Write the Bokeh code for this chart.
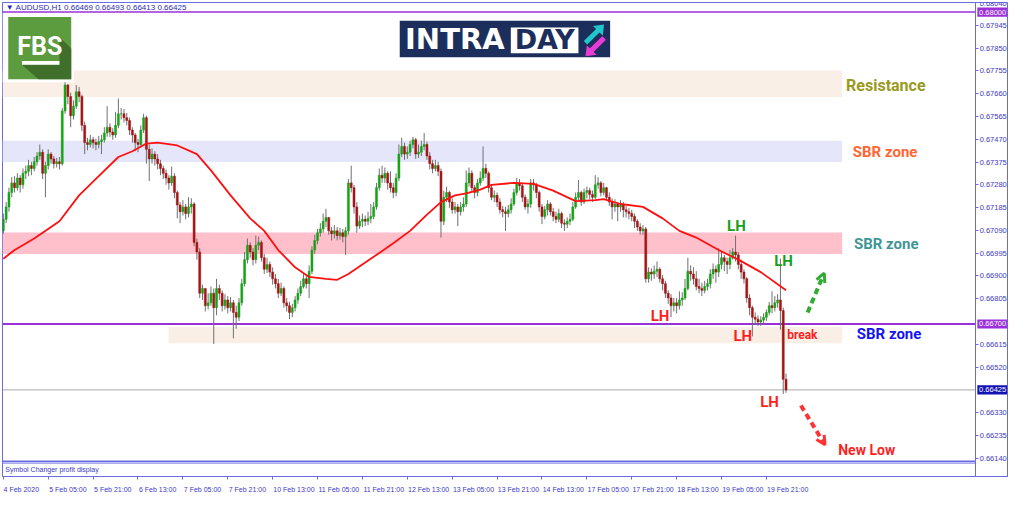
from bokeh.plotting import figure
from bokeh.models import (Range1d, FixedTicker, PrintfTickFormatter, Label,
                          Arrow, OpenHead, LinearAxis)
from bokeh.embed import file_html
from bokeh.resources import INLINE

# ---------------- data (prices in 1e-5 units, AUDUSD H1) ----------------
open0 = 67088
close_pts = [
    67136,67188,67248,67288,67268,67308,67280,67328,67336,67360,
    67348,67376,67400,67416,67328,67360,67408,67388,67368,67376,
    67368,67588,67696,67648,67568,67608,67668,67648,67528,67456,
    67448,67468,67456,67448,67460,67468,67496,67520,67500,67488,
    67528,67576,67576,67560,67548,67508,67488,67456,67448,67508,
    67560,67428,67388,67408,67388,67368,67348,67328,67308,67288,
    67316,67248,67196,67168,67188,67160,67188,67200,67040,67000,
    66828,66848,66776,66788,66828,66768,66848,66828,66776,66800,
    66768,66788,66748,66728,66788,66868,66968,67028,67000,66968,
    67028,67040,66976,66928,66948,66916,66888,66868,66828,66848,
    66788,66776,66748,66768,66800,66828,66856,66888,66868,66920,
    67008,67048,67080,67096,67128,67144,67088,67076,67088,67068,
    67080,67064,67088,67288,67268,67188,67108,67128,67136,67128,
    67140,67148,67188,67268,67320,67308,67328,67288,67268,67248,
    67308,67408,67440,67408,67416,67448,67468,67408,67416,67440,
    67448,67400,67368,67348,67360,67336,67128,67228,67248,67208,
    67176,67188,67168,67188,67200,67288,67328,67268,67248,67288,
    67308,67348,67328,67268,67228,67236,67208,67176,67168,67160,
    67176,67200,67248,67288,67276,67228,67188,67200,67288,67280,
    67248,67188,67148,67176,67200,67168,67148,67136,67160,67120,
    67116,67128,67136,67188,67228,67248,67208,67248,67256,67240,
    67228,67280,67288,67248,67268,67228,67208,67188,67200,67188,
    67196,67176,67168,67160,67148,67128,67104,67088,67096,66888,
    66916,66908,66920,66928,66888,66868,66828,66808,66776,66788,
    66776,66800,66808,66848,66920,66908,66888,66856,66848,66840,
    66856,66868,66908,66928,66916,66948,66976,66960,66948,66976,
    67000,66988,66948,66916,66888,66808,66768,66728,66720,66708,
    66716,66728,66748,66776,66768,66788,66800,66756,66469,66425,
]
high_pts = [
    67160,67208,67268,67312,67316,67328,67320,67348,67360,67384,
    67376,67396,67416,67448,67428,67376,67428,67416,67400,67392,
    67396,67600,67712,67700,67664,67632,67696,67688,67656,67544,
    67476,67488,67480,67472,67484,67488,67520,67608,67536,67516,
    67584,67640,67600,67596,67580,67560,67520,67496,67472,67528,
    67576,67568,67448,67432,67420,67408,67384,67360,67344,67320,
    67356,67328,67256,67208,67216,67200,67228,67224,67208,67056,
    67016,66864,66848,66828,66856,66848,66888,66864,66840,66824,
    66816,66812,66800,66776,66808,66888,67000,67056,67040,67016,
    67068,67064,67048,66992,66976,66960,66936,66908,66888,66872,
    66856,66808,66792,66784,66816,66848,66880,66908,66904,66944,
    67024,67072,67096,67120,67160,67180,67144,67104,67112,67104,
    67100,67096,67104,67304,67360,67280,67208,67152,67160,67152,
    67168,67200,67208,67288,67348,67360,67352,67336,67336,67288,
    67328,67448,67476,67456,67440,67464,67480,67476,67448,67464,
    67496,67460,67416,67384,67384,67376,67348,67256,67272,67256,
    67224,67208,67200,67208,67228,67340,67352,67340,67280,67304,
    67336,67440,67368,67336,67280,67256,67248,67224,67192,67188,
    67196,67224,67264,67308,67304,67288,67240,67220,67304,67304,
    67288,67256,67200,67192,67216,67208,67184,67168,67180,67168,
    67136,67144,67160,67208,67248,67300,67256,67264,67272,67268,
    67256,67320,67312,67296,67288,67272,67248,67224,67220,67208,
    67216,67208,67192,67184,67176,67160,67136,67120,67112,67104,
    66936,66932,66944,66960,66936,66904,66880,66840,66824,66808,
    66808,66836,66832,66888,66976,66944,66936,66920,66888,66872,
    66880,66888,66928,66952,66944,67016,67000,66988,66976,67008,
    67016,67068,67000,66968,66928,66896,66824,66776,66748,66736,
    66732,66744,66760,66792,66836,66816,66824,66972,66768,66493,
]
low_pts = [
    67076,67120,67168,67228,67248,67256,67248,67264,67304,67316,
    67320,67336,67360,67384,67304,67228,67344,67368,67348,67352,
    67344,67360,67576,67616,67520,67552,67596,67624,67504,67408,
    67424,67436,67432,67424,67432,67408,67456,67480,67480,67468,
    67476,67516,67552,67540,67528,67488,67456,67420,67416,67436,
    67496,67368,67296,67368,67360,67344,67320,67304,67280,67260,
    67276,67224,67140,67120,67152,67136,67144,67160,67024,66968,
    66808,66800,66752,66760,66776,66616,66736,66800,66752,66760,
    66744,66752,66640,66680,66712,66776,66856,66952,66976,66944,
    66952,67008,66960,66908,66912,66896,66864,66848,66808,66816,
    66768,66752,66720,66728,66752,66784,66816,66848,66848,66808,
    66908,66992,67032,67064,67080,67104,67072,67048,67056,67048,
    67052,67040,66988,67072,67248,67160,67080,67096,67104,67108,
    67112,67120,67136,67176,67256,67288,67288,67260,67248,67224,
    67232,67296,67396,67384,67388,67400,67432,67388,67392,67400,
    67424,67384,67344,67328,67336,67316,67060,67112,67208,67184,
    67160,67160,67108,67152,67168,67188,67272,67248,67224,67232,
    67276,67296,67308,67248,67216,67208,67188,67160,67144,67088,
    67144,67160,67192,67236,67256,67208,67176,67160,67184,67256,
    67224,67168,67116,67136,67152,67152,67128,67120,67124,67100,
    67088,67100,67112,67128,67180,67216,67192,67200,67224,67220,
    67208,67220,67264,67232,67236,67216,67192,67136,67168,67128,
    67168,67144,67144,67136,67128,67100,67088,67072,67072,66872,
    66872,66880,66888,66896,66872,66840,66808,66784,66728,66752,
    66744,66760,66776,66800,66840,66880,66864,66840,66828,66816,
    66828,66840,66848,66888,66872,66896,66928,66920,66908,66928,
    66968,66960,66928,66888,66868,66788,66736,66648,66696,66692,
    66692,66696,66712,66736,66744,66752,66768,66676,66408,66413,
]
# moving average (red line), sampled at these bars
ma_bar = [0,4,11,20,27,34,41,46,51,55,62,69,74,81,88,93,98,104,109,115,119,123,
          134,139,145,151,156,161,165,170,174,182,189,196,204,211,214,220,228,235,
          241,247,255,262,270,279]
ma_pts = [66972,67008,67056,67128,67236,67316,67396,67420,67452,67456,67444,67408,
          67340,67236,67140,67088,67008,66936,66896,66888,66884,66908,66996,67036,
          67088,67156,67208,67236,67244,67260,67280,67288,67284,67256,67212,67216,
          67220,67200,67188,67140,67088,67060,67008,66968,66916,66840]

time_tick_bars = [0,16,32,48,64,80,96,112,128,144,160,176,192,208,224,240,256,272]
time_labels = ["4 Feb 2020","5 Feb 05:00","5 Feb 21:00","6 Feb 13:00","7 Feb 05:00",
               "7 Feb 21:00","10 Feb 13:00","11 Feb 05:00","11 Feb 21:00","12 Feb 13:00",
               "13 Feb 05:00","13 Feb 21:00","14 Feb 13:00","17 Feb 05:00","17 Feb 21:00",
               "18 Feb 13:00","19 Feb 05:00","19 Feb 21:00"]
price_ticks = [0.68040,0.67945,0.67850,0.67755,0.67660,0.67565,0.67470,0.67375,0.67280,
               0.67185,0.67090,0.66995,0.66900,0.66805,0.66615,0.66520,0.66330,0.66235,0.66140]

# zones (support / resistance) in price
zone_bottom = [0.67646, 0.67375, 0.66992, 0.66620]
zone_top = [0.67757, 0.67464, 0.67081, 0.66687]
zone_left = [-0.3, -0.3, -0.3, 58.9]
zone_right = [299.0, 299.0, 299.0, 299.0]
zone_colors = ["#FAEFE6", "#E6E6FA", "#FFC0CB", "#FAEFE6"]
level_upper = 0.68000
level_support = 0.66700
last_price = 0.66425

S = 1e-5
n = len(close_pts)
idx = list(range(n))
opens = [open0] + close_pts[:-1]
o = [v * S for v in opens]
c = [v * S for v in close_pts]
h = [v * S for v in high_pts]
l = [v * S for v in low_pts]
bull = [ci >= oi for oi, ci in zip(o, c)]
body_top = [max(a, b) for a, b in zip(o, c)]
body_bot = [min(a, b) for a, b in zip(o, c)]
body_col = ["#17A317" if b else "#A31515" for b in bull]

AXC = "#6B6BE3"
TXC = "#3A3AC6"
PURPLE = "#9A30D8"
X0 = -0.3
X_END = 346.6      # chart window right edge (price scale sits here)
X_R = 358.3        # room for the price scale labels

p = figure(width=1008, height=495, x_range=Range1d(X0, X_R),
           y_range=Range1d(0.66064, 0.68040), y_axis_location="right",
           output_backend="svg", toolbar_location=None,
           min_border_left=2, min_border_top=2, min_border_right=0, min_border_bottom=0,
           background_fill_color="white", border_fill_color="white",
           outline_line_color=AXC)
p.xgrid.visible = False
p.ygrid.visible = False

ya = p.yaxis[0]
ya.fixed_location = X_END
ya.ticker = FixedTicker(ticks=price_ticks)
ya.formatter = PrintfTickFormatter(format="%.5f")
ya.major_label_text_font = "Liberation Sans"
ya.major_label_text_font_size = "7.5px"
ya.major_label_text_color = TXC
ya.axis_line_color = AXC
ya.major_tick_line_color = AXC
ya.major_tick_out = 3
ya.major_tick_in = 0
ya.minor_tick_out = 0
ya.minor_tick_in = 0
ya.major_label_standoff = 1

# bottom axis: tick marks at the bar positions ...
xa = p.xaxis[0]
xa.ticker = FixedTicker(ticks=time_tick_bars)
xa.major_label_overrides = {b: "" for b in time_tick_bars}
xa.major_label_text_font_size = "0px"
xa.major_label_standoff = 0
xa.axis_line_color = AXC
xa.major_tick_line_color = AXC
xa.major_tick_out = 3
xa.major_tick_in = 0
xa.minor_tick_out = 0
xa.minor_tick_in = 0

# ... and labels starting at the tick (MT4 style, left aligned)
lab_pos = []
for b, t in zip(time_tick_bars, time_labels):
    v = round(b + len(t) * 3.35 / 2 / 2.81 + 0.45, 2)
    if v == int(v):
        v += 0.01
    lab_pos.append(v)
xl = LinearAxis(ticker=FixedTicker(ticks=lab_pos),
                major_label_overrides={v: t for v, t in zip(lab_pos, time_labels)},
                axis_line_color=None, major_tick_line_color=None, minor_tick_line_color=None,
                major_label_standoff=0, major_label_text_font="Liberation Sans",
                major_label_text_font_size="7px", major_label_text_color=TXC)
p.add_layout(xl, "below")

# zones
p.quad(left=zone_left, right=zone_right, bottom=zone_bottom, top=zone_top,
       fill_color=zone_colors, line_color=None)

# horizontal levels (inside the chart window only)
p.segment(x0=[X0, X0], y0=[level_upper, level_support], x1=[X_END, X_END],
          y1=[level_upper, level_support], line_color=PURPLE, line_width=[1.5, 2])
p.segment(x0=[X0], y0=[last_price], x1=[X_END], y1=[last_price], line_color="#A8A8A8", line_width=1)
# sub-window separators
p.segment(x0=[X0, X0], y0=[0.66128, 0.66120], x1=[X_END, X_END], y1=[0.66128, 0.66120],
          line_color=AXC, line_width=[1.5, 1])

# candles
p.segment(x0=idx, y0=l, x1=idx, y1=h, line_color="#707070", line_width=1)
p.vbar(x=idx, width=0.72, top=body_top, bottom=body_bot, fill_color=body_col,
       line_color=body_col, line_width=0.5)

# moving average
p.line(ma_bar, [v * S for v in ma_pts], line_color="#FF1010", line_width=1.8)

# ---------- FBS logo ----------
p.quad(left=[X0], right=[25.2], bottom=[0.67708], top=[0.67996], fill_color="white", line_color=None)
p.quad(left=[1.75], right=[24.2], bottom=[0.67720], top=[0.67980], fill_color="#5C9B3E", line_color=None)
p.patch([20.0, 24.2, 24.2, 12.5, 6.66, 20.0], [0.67896, 0.67848, 0.67720, 0.67720, 0.67780, 0.67780],
        fill_color="#3F6F2B", line_color=None)
p.add_layout(Label(x=13.0, y=0.67855, text="FBS", text_align="center", text_baseline="middle",
                   text_font="Roboto", text_font_style="bold",
                   text_font_size="25px", text_color="white"))
p.quad(left=[6.66], right=[20.0], bottom=[0.67780], top=[0.67796], fill_color="white", line_color=None)

# ---------- INTRADAY logo ----------
p.quad(left=[141.3], right=[216.3], bottom=[0.67812], top=[0.67964], fill_color="#1C2F5C", line_color=None)
p.quad(left=[180.9], right=[205.0], bottom=[0.67828], top=[0.67936], fill_color="white", line_color=None)
p.add_layout(Label(x=143.2, y=0.67886, text="INTRA", text_align="left", text_baseline="middle",
                   text_font="DejaVu Sans", text_font_style="bold", text_font_size="29px",
                   text_color="white"))
p.add_layout(Label(x=193.0, y=0.67886, text="DAY", text_align="center", text_baseline="middle",
                   text_font="DejaVu Sans", text_font_style="bold", text_font_size="27px",
                   text_color="#1C2F5C"))
p.patches([[206.9, 211.3, 210.2, 214.1, 213.7, 212.5, 208.1],
           [213.5, 209.1, 208.0, 207.5, 211.5, 210.4, 214.8]],
          [[0.67879, 0.67930, 0.67942, 0.67948, 0.67902, 0.67915, 0.67865],
           [0.67899, 0.67849, 0.67861, 0.67816, 0.67822, 0.67834, 0.67885]],
          fill_color=["#22C7C9", "#E93BD6"], line_color=None)

# header
p.add_layout(Label(x=0.9, y=0.68020, text="\u25bc  AUDUSD,H1  0.66469 0.66493 0.66413 0.66425",
                   text_font="Liberation Sans", text_font_size="8px", text_color="#2B2BB5",
                   text_baseline="middle"))
p.add_layout(Label(x=0.7, y=0.66094, text="Symbol Changer profit display",
                   text_font="Liberation Sans", text_font_size="7px", text_color=TXC,
                   text_baseline="middle"))

# highlighted price tags on the price scale
tag_vals = [level_upper, level_support, last_price]
tag_txt = ["0.68000", "0.66700", "0.66425"]
tag_bg = [PURPLE, PURPLE, "#1212B4"]
p.quad(left=[X_END + 0.6] * 3, right=[X_END + 11.2] * 3,
       bottom=[v - 0.00019 for v in tag_vals], top=[v + 0.00019 for v in tag_vals],
       fill_color=tag_bg, line_color=None)
for val, txt in zip(tag_vals, tag_txt):
    p.add_layout(Label(x=X_END + 1.2, y=val, text=txt, text_align="left",
                       text_baseline="middle", text_font="Liberation Sans",
                       text_font_size="7.5px", text_color="white"))

# zone texts
FONT = "Roboto"
for x, y, txt, col, fs in [(300.4, 0.67692, "Resistance", "#9A9A1E", "16px"),
                           (302.8, 0.67416, "SBR zone", "#FF6633", "15px"),
                           (303.2, 0.67034, "SBR zone", "#3F9696", "15px"),
                           (304.2, 0.66656, "SBR zone", "#1414F0", "15px"),
                           (279.4, 0.66654, "break", "#FF1F1F", "12px"),
                           (297.6, 0.66176, "New Low", "#FF1F1F", "14px")]:
    p.add_layout(Label(x=x, y=y, text=txt, text_align="left", text_baseline="middle",
                       text_font=FONT, text_font_style="bold", text_font_size=fs, text_color=col))

for x, y, col in [(261.3, 0.67108, "#1B9E1B"), (278.1, 0.66962, "#1B9E1B"),
                  (234.1, 0.66732, "#FF1F1F"), (263.6, 0.66648, "#FF1F1F"),
                  (273.1, 0.66376, "#FF1F1F")]:
    p.add_layout(Label(x=x, y=y, text="LH", text_align="center", text_baseline="middle",
                       text_font=FONT, text_font_style="bold", text_font_size="15px", text_color=col))

# dashed arrows
p.add_layout(Arrow(end=OpenHead(line_color="#33AA33", line_width=3, size=9),
                   x_start=286.7, y_start=0.66748, x_end=292.6, y_end=0.66912,
                   line_color="#33AA33", line_width=4, line_dash="6 4"))
p.add_layout(Arrow(end=OpenHead(line_color="#FF3333", line_width=3, size=9),
                   x_start=284.3, y_start=0.66360, x_end=292.9, y_end=0.66196,
                   line_color="#FF3333", line_width=4, line_dash="6 4"))

open("out.html", "w").write(file_html(p, INLINE))
